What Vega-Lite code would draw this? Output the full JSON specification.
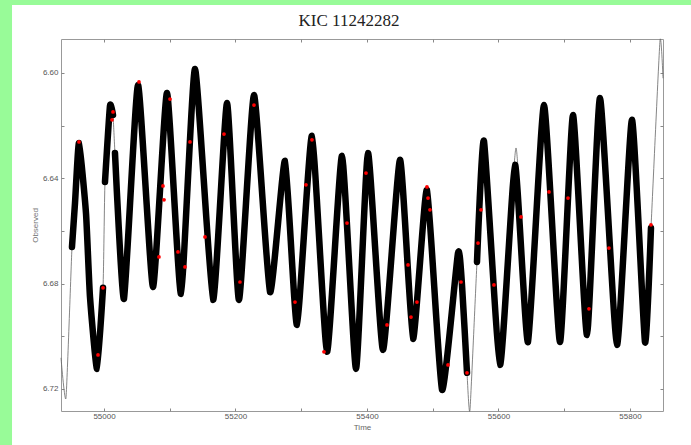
{
  "$schema": "https://vega.github.io/schema/vega-lite/v6.json",
  "width": 602,
  "height": 372,
  "autosize": {"type": "none"},
  "padding": {"left": 61, "top": 39, "right": 28, "bottom": 34},
  "background": "white",
  "title": {"text": "KIC 11242282", "font": "Liberation Serif", "fontSize": 17, "fontWeight": "normal", "color": "#222", "anchor": "middle", "frame": "group", "dx": -13, "offset": 13, "dy": 43},
  "config": {"view": {"stroke": "#999", "strokeWidth": 1}},
  "datasets": {
    "obs": [
      {"t": 54951.3, "mag": 6.6661, "seg": 1},
      {"t": 54955.9, "mag": 6.6494, "seg": 1},
      {"t": 54962.0, "mag": 6.6266, "seg": 1},
      {"t": 54972.6, "mag": 6.6532, "seg": 1},
      {"t": 54978.7, "mag": 6.6851, "seg": 1},
      {"t": 54989.4, "mag": 6.7124, "seg": 1},
      {"t": 54998.5, "mag": 6.6816, "seg": 1},
      {"t": 55001.5, "mag": 6.6414, "seg": 2},
      {"t": 55009.1, "mag": 6.6125, "seg": 2},
      {"t": 55013.7, "mag": 6.6160, "seg": 2},
      {"t": 55016.7, "mag": 6.6304, "seg": 3},
      {"t": 55030.4, "mag": 6.6858, "seg": 3},
      {"t": 55051.7, "mag": 6.6046, "seg": 3},
      {"t": 55074.5, "mag": 6.6813, "seg": 3},
      {"t": 55095.8, "mag": 6.6076, "seg": 3},
      {"t": 55117.1, "mag": 6.6839, "seg": 3},
      {"t": 55138.4, "mag": 6.5985, "seg": 3},
      {"t": 55165.8, "mag": 6.6862, "seg": 3},
      {"t": 55187.1, "mag": 6.6114, "seg": 3},
      {"t": 55205.3, "mag": 6.6862, "seg": 3},
      {"t": 55228.1, "mag": 6.6084, "seg": 3},
      {"t": 55252.5, "mag": 6.6832, "seg": 3},
      {"t": 55275.3, "mag": 6.6334, "seg": 3},
      {"t": 55293.5, "mag": 6.6957, "seg": 3},
      {"t": 55316.3, "mag": 6.6239, "seg": 3},
      {"t": 55339.2, "mag": 6.7059, "seg": 3},
      {"t": 55362.0, "mag": 6.6315, "seg": 3},
      {"t": 55383.3, "mag": 6.7124, "seg": 3},
      {"t": 55401.5, "mag": 6.6304, "seg": 3},
      {"t": 55424.3, "mag": 6.7052, "seg": 3},
      {"t": 55450.2, "mag": 6.6330, "seg": 3},
      {"t": 55470.0, "mag": 6.7010, "seg": 3},
      {"t": 55491.2, "mag": 6.6444, "seg": 3},
      {"t": 55514.1, "mag": 6.7204, "seg": 3},
      {"t": 55538.4, "mag": 6.6684, "seg": 3},
      {"t": 55544.5, "mag": 6.6805, "seg": 3},
      {"t": 55552.1, "mag": 6.7139, "seg": 3},
      {"t": 55567.3, "mag": 6.6718, "seg": 4},
      {"t": 55577.9, "mag": 6.6258, "seg": 4},
      {"t": 55602.3, "mag": 6.7109, "seg": 4},
      {"t": 55625.1, "mag": 6.6349, "seg": 4},
      {"t": 55644.9, "mag": 6.7022, "seg": 4},
      {"t": 55669.2, "mag": 6.6122, "seg": 4},
      {"t": 55693.5, "mag": 6.7022, "seg": 4},
      {"t": 55713.3, "mag": 6.6160, "seg": 4},
      {"t": 55734.6, "mag": 6.6995, "seg": 4},
      {"t": 55754.4, "mag": 6.6095, "seg": 4},
      {"t": 55780.2, "mag": 6.7033, "seg": 4},
      {"t": 55803.0, "mag": 6.6178, "seg": 4},
      {"t": 55822.8, "mag": 6.7022, "seg": 4},
      {"t": 55831.9, "mag": 6.6589, "seg": 4}
    ],
    "model": [
      {"t": 54934.6, "mag": 6.7082},
      {"t": 54942.2, "mag": 6.7234},
      {"t": 54951.3, "mag": 6.6661},
      {"t": 54955.9, "mag": 6.6494},
      {"t": 54962.0, "mag": 6.6266},
      {"t": 54972.6, "mag": 6.6532},
      {"t": 54978.7, "mag": 6.6851},
      {"t": 54989.4, "mag": 6.7124},
      {"t": 54998.5, "mag": 6.6816},
      {"t": 55001.5, "mag": 6.6414},
      {"t": 55009.1, "mag": 6.6125},
      {"t": 55013.7, "mag": 6.6160},
      {"t": 55016.7, "mag": 6.6304},
      {"t": 55030.4, "mag": 6.6858},
      {"t": 55051.7, "mag": 6.6046},
      {"t": 55074.5, "mag": 6.6813},
      {"t": 55095.8, "mag": 6.6076},
      {"t": 55117.1, "mag": 6.6839},
      {"t": 55138.4, "mag": 6.5985},
      {"t": 55165.8, "mag": 6.6862},
      {"t": 55187.1, "mag": 6.6114},
      {"t": 55205.3, "mag": 6.6862},
      {"t": 55228.1, "mag": 6.6084},
      {"t": 55252.5, "mag": 6.6832},
      {"t": 55275.3, "mag": 6.6334},
      {"t": 55293.5, "mag": 6.6957},
      {"t": 55316.3, "mag": 6.6239},
      {"t": 55339.2, "mag": 6.7059},
      {"t": 55362.0, "mag": 6.6315},
      {"t": 55383.3, "mag": 6.7124},
      {"t": 55401.5, "mag": 6.6304},
      {"t": 55424.3, "mag": 6.7052},
      {"t": 55450.2, "mag": 6.6330},
      {"t": 55470.0, "mag": 6.7010},
      {"t": 55491.2, "mag": 6.6444},
      {"t": 55514.1, "mag": 6.7204},
      {"t": 55538.4, "mag": 6.6684},
      {"t": 55544.5, "mag": 6.6805},
      {"t": 55552.1, "mag": 6.7139},
      {"t": 55556.6, "mag": 6.7280},
      {"t": 55567.3, "mag": 6.6718},
      {"t": 55577.9, "mag": 6.6258},
      {"t": 55602.3, "mag": 6.7109},
      {"t": 55626.6, "mag": 6.6285},
      {"t": 55644.9, "mag": 6.7022},
      {"t": 55669.2, "mag": 6.6122},
      {"t": 55693.5, "mag": 6.7022},
      {"t": 55713.3, "mag": 6.6160},
      {"t": 55734.6, "mag": 6.6995},
      {"t": 55754.4, "mag": 6.6095},
      {"t": 55780.2, "mag": 6.7033},
      {"t": 55803.0, "mag": 6.6178},
      {"t": 55822.8, "mag": 6.7022},
      {"t": 55831.9, "mag": 6.6589},
      {"t": 55845.6, "mag": 6.5878},
      {"t": 55850.2, "mag": 6.6020}
    ],
    "flagged": [
      {"t": 54962.0, "mag": 6.6262},
      {"t": 55013.7, "mag": 6.6148},
      {"t": 55012.2, "mag": 6.6178},
      {"t": 55053.2, "mag": 6.6034},
      {"t": 55100.4, "mag": 6.6099},
      {"t": 55091.3, "mag": 6.6482},
      {"t": 55089.7, "mag": 6.6429},
      {"t": 55130.8, "mag": 6.6262},
      {"t": 55153.6, "mag": 6.6623},
      {"t": 55182.5, "mag": 6.6232},
      {"t": 55228.1, "mag": 6.6122},
      {"t": 54998.5, "mag": 6.6816},
      {"t": 54990.9, "mag": 6.7071},
      {"t": 55083.6, "mag": 6.6699},
      {"t": 55112.5, "mag": 6.6680},
      {"t": 55123.2, "mag": 6.6737},
      {"t": 55206.8, "mag": 6.6794},
      {"t": 55307.2, "mag": 6.6425},
      {"t": 55316.3, "mag": 6.6254},
      {"t": 55369.6, "mag": 6.6570},
      {"t": 55398.5, "mag": 6.6380},
      {"t": 55491.2, "mag": 6.6433},
      {"t": 55492.8, "mag": 6.6475},
      {"t": 55495.8, "mag": 6.6520},
      {"t": 55430.4, "mag": 6.6957},
      {"t": 55462.4, "mag": 6.6729},
      {"t": 55476.0, "mag": 6.6870},
      {"t": 55466.9, "mag": 6.6927},
      {"t": 55543.0, "mag": 6.6794},
      {"t": 55523.2, "mag": 6.7109},
      {"t": 55552.1, "mag": 6.7139},
      {"t": 55568.8, "mag": 6.6646},
      {"t": 55573.4, "mag": 6.6520},
      {"t": 55290.5, "mag": 6.6870},
      {"t": 55334.6, "mag": 6.7059},
      {"t": 55634.2, "mag": 6.6547},
      {"t": 55676.8, "mag": 6.6452},
      {"t": 55705.7, "mag": 6.6475},
      {"t": 55831.9, "mag": 6.6577},
      {"t": 55593.1, "mag": 6.6805},
      {"t": 55737.6, "mag": 6.6896},
      {"t": 55768.0, "mag": 6.6665}
    ]
  },
  "resolve": {"axis": {"x": "independent", "y": "independent"}},
  "layer": [
    {
      "data": {"values": [{}]},
      "mark": {"type": "rect", "color": "#98fb98", "clip": false},
      "encoding": {
        "x": {"datum": 54841.8, "type": "quantitative", "scale": {"domain": [54934.6, 55850.2], "nice": false, "zero": false}, "axis": null},
        "x2": {"datum": 54860.1},
        "y": {"datum": 6.5723, "type": "quantitative", "scale": {"domain": [6.5871, 6.7284], "nice": false, "zero": false, "reverse": true}, "axis": null},
        "y2": {"datum": 6.7413}
      }
    },
    {
      "data": {"values": [{}]},
      "mark": {"type": "rect", "color": "#98fb98", "clip": false},
      "encoding": {
        "x": {"datum": 54841.8, "type": "quantitative", "axis": null},
        "x2": {"datum": 55893.0},
        "y": {"datum": 6.5723, "type": "quantitative", "axis": null},
        "y2": {"datum": 6.5742}
      }
    },
    {
      "data": {"name": "model"},
      "mark": {"type": "line", "color": "#666", "strokeWidth": 0.8, "interpolate": "cardinal", "tension": 0.5},
      "encoding": {
        "x": {"field": "t", "type": "quantitative", "axis": {"orient": "bottom", "values": [55000, 55100, 55200, 55300, 55400, 55500, 55600, 55700, 55800], "labelExpr": "datum.value % 200 === 0 ? format(datum.value, 'd') : ''", "tickSize": -3, "tickColor": "#888", "labelPadding": 4, "domain": false, "grid": false, "labelFont": "Liberation Sans", "labelFontSize": 8, "labelColor": "#555", "title": "Time", "titleFont": "Liberation Sans", "titleFontSize": 8, "titleFontWeight": "normal", "titleColor": "#666", "titlePadding": 3}},
        "y": {"field": "mag", "type": "quantitative", "axis": {"orient": "left", "values": [6.6, 6.62, 6.64, 6.66, 6.68, 6.7, 6.72], "labelExpr": "indexof(['6.60','6.64','6.68','6.72'], format(datum.value, '.2f')) >= 0 ? format(datum.value, '.2f') : ''", "tickSize": -3, "tickColor": "#888", "labelPadding": 6, "domain": false, "grid": false, "labelFont": "Liberation Sans", "labelFontSize": 8, "labelColor": "#555", "title": "Observed", "titleFont": "Liberation Sans", "titleFontSize": 8, "titleFontWeight": "normal", "titleColor": "#777", "titlePadding": 3}}
      }
    },
    {
      "data": {"name": "obs"},
      "mark": {"type": "line", "color": "#000", "strokeWidth": 6.5, "strokeCap": "round", "strokeJoin": "round", "interpolate": "cardinal", "tension": 0.5},
      "encoding": {
        "x": {"field": "t", "type": "quantitative", "axis": {"orient": "top", "values": [55000, 55100, 55200, 55300, 55400, 55500, 55600, 55700, 55800], "labels": false, "tickSize": -3, "tickColor": "#888", "domain": false, "grid": false, "title": null}},
        "y": {"field": "mag", "type": "quantitative", "axis": {"orient": "right", "values": [6.6, 6.62, 6.64, 6.66, 6.68, 6.7, 6.72], "labels": false, "tickSize": -3, "tickColor": "#888", "domain": false, "grid": false, "title": null}},
        "detail": {"field": "seg", "type": "nominal"}
      }
    },
    {
      "data": {"name": "flagged"},
      "mark": {"type": "circle", "color": "#f00", "opacity": 1, "size": 14},
      "encoding": {
        "x": {"field": "t", "type": "quantitative", "axis": null},
        "y": {"field": "mag", "type": "quantitative", "axis": null}
      }
    }
  ]
}
